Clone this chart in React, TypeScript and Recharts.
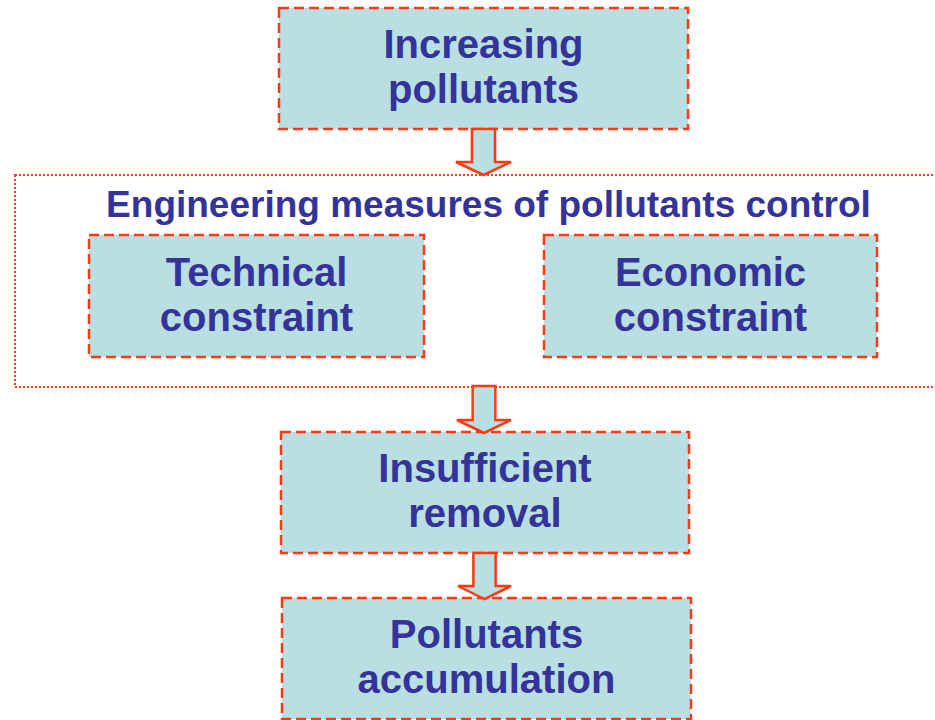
import { ComposedChart, ReferenceArea, XAxis, YAxis } from "recharts";

// node boxes, in page units (x to the right, y downwards)
const boxLabels = [
  ["Increasing", "pollutants"],
  ["Technical", "constraint"],
  ["Economic", "constraint"],
  ["Insufficient", "removal"],
  ["Pollutants", "accumulation"],
];
const boxX1 = [279, 89, 544, 281, 282];
const boxX2 = [688, 424, 877, 689, 691];
const boxY1 = [8, 235, 235, 432, 598];
const boxY2 = [129, 357, 357, 553, 719];

// dotted group around the two constraints
const groupTitle = "Engineering measures of pollutants control";
const groupX = [15, 962];
const groupY = [175, 387];

// block arrows between steps
const arrowX1 = [456, 457, 458];
const arrowX2 = [511, 511, 511];
const arrowY1 = [129, 386, 553];
const arrowY2 = [175, 433, 599];

const W = 935;
const H = 720;
const RED = "#ff3a12";
const FILL = "#b9dfe2";
const INK = "#333399";
const FONT = "'Liberation Sans', Arial, Helvetica, sans-serif";
const BOX_FONT = 40;
const LINE_GAP = 45;

function BoxShape(props: any) {
  const { x, y, width, height, lines } = props;
  const cx = x + width / 2;
  const mid = y + height / 2 + 12;
  return (
    <g>
      <rect
        x={x}
        y={y}
        width={width}
        height={height}
        fill={FILL}
        stroke={RED}
        strokeWidth={2.5}
        strokeDasharray="10 5"
      />
      {lines.map((t: string, i: number) => (
        <text
          key={t}
          x={cx}
          y={mid - LINE_GAP / 2 + i * LINE_GAP}
          textAnchor="middle"
          fontFamily={FONT}
          fontWeight="bold"
          fontSize={BOX_FONT}
          fill={INK}
        >
          {t}
        </text>
      ))}
    </g>
  );
}

function GroupShape(props: any) {
  const { x, y, width, height } = props;
  return (
    <g>
      <rect
        x={x}
        y={y}
        width={width}
        height={height}
        fill="none"
        stroke={RED}
        strokeWidth={2}
        strokeDasharray="2 2"
      />
      <text
        x={x + width / 2}
        y={y + 42}
        textAnchor="middle"
        fontFamily={FONT}
        fontWeight="bold"
        fontSize={37}
        fill={INK}
      >
        {groupTitle}
      </text>
    </g>
  );
}

function ArrowShape(props: any) {
  const { x, y, width, height } = props;
  const cx = x + width / 2;
  const half = width * 0.21;
  const neck = y + height - 13;
  const pts = [
    [cx - half, y],
    [cx + half, y],
    [cx + half, neck],
    [x + width, neck],
    [cx, y + height],
    [x, neck],
    [cx - half, neck],
  ]
    .map((p) => p.join(","))
    .join(" ");
  return (
    <polygon points={pts} fill={FILL} stroke={RED} strokeWidth={2.5} strokeLinejoin="miter" />
  );
}

export default function App() {
  return (
    <div style={{ position: "absolute", left: 0, top: 0, width: W, height: H, background: "#fff" }}>
      <ComposedChart width={W} height={H} margin={{ top: 0, right: 0, bottom: 0, left: 0 }}>
        <XAxis type="number" dataKey="x" domain={[0, W]} hide allowDataOverflow />
        <YAxis type="number" dataKey="y" domain={[0, H]} reversed hide allowDataOverflow />
        <ReferenceArea
          x1={groupX[0]}
          x2={groupX[1]}
          y1={groupY[0]}
          y2={groupY[1]}
          ifOverflow="visible"
          shape={(p: any) => <GroupShape {...p} />}
        />
        {boxLabels.map((lines, i) => (
          <ReferenceArea
            key={lines.join(" ")}
            x1={boxX1[i]}
            x2={boxX2[i]}
            y1={boxY1[i]}
            y2={boxY2[i]}
            ifOverflow="visible"
            shape={(p: any) => <BoxShape {...p} lines={lines} />}
          />
        ))}
        {arrowX1.map((_, i) => (
          <ReferenceArea
            key={`arrow-${i}`}
            x1={arrowX1[i]}
            x2={arrowX2[i]}
            y1={arrowY1[i]}
            y2={arrowY2[i]}
            ifOverflow="visible"
            shape={(p: any) => <ArrowShape {...p} />}
          />
        ))}
      </ComposedChart>
    </div>
  );
}
